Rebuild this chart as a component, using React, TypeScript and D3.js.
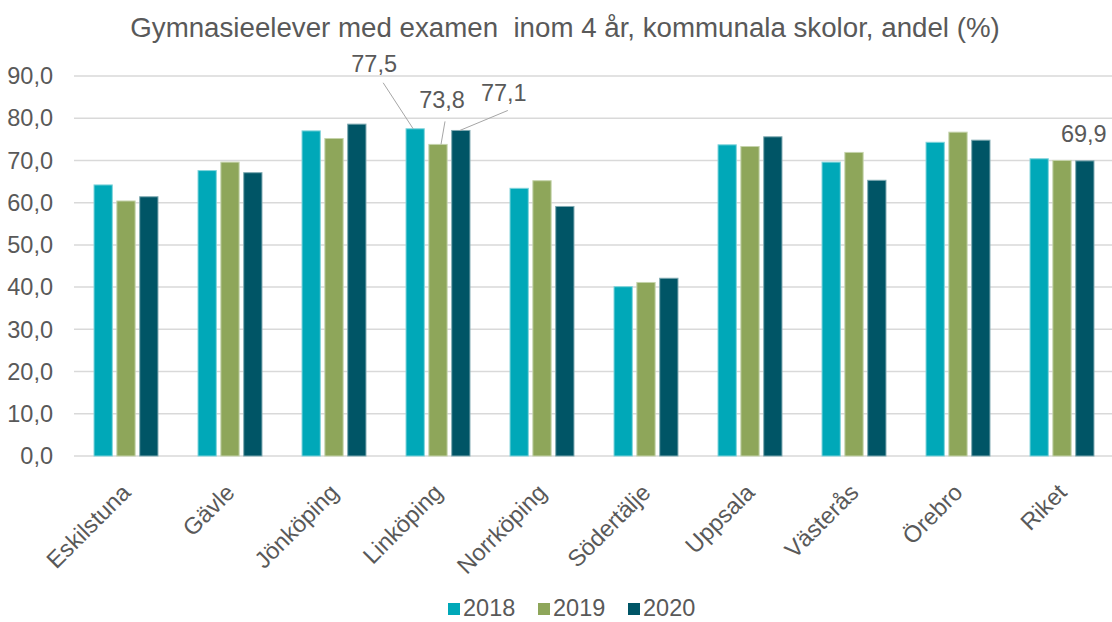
import React from 'react';
import * as d3 from 'd3';

const categories = ['Eskilstuna', 'Gävle', 'Jönköping', 'Linköping', 'Norrköping', 'Södertälje', 'Uppsala', 'Västerås', 'Örebro', 'Riket'];
const years = ['2018', '2019', '2020'];
const values2018 = [64.2, 67.6, 77.0, 77.5, 63.4, 40.1, 73.7, 69.6, 74.3, 70.4];
const values2019 = [60.4, 69.6, 75.2, 73.8, 65.2, 41.1, 73.3, 71.9, 76.7, 70.0];
const values2020 = [61.4, 67.1, 78.6, 77.1, 59.1, 42.1, 75.6, 65.3, 74.8, 69.9];
const yTicks = [0, 10, 20, 30, 40, 50, 60, 70, 80, 90];
// bars that carry a data label: [category, year]
const labelled = [['Linköping', '2018'], ['Linköping', '2019'], ['Linköping', '2020'], ['Riket', '2020']];

const colors = ['#00a8b8', '#8ea65a', '#005566'];
const strokes = ['#7fd3db', '#c5d3ab', '#7faab2'];

const width = 1112;
const height = 622;
const font = '"Liberation Sans", Arial, sans-serif';
const textColor = '#595959';

// label offsets relative to the bar top centre: dx, dy of text, and leader line start/end
const labelLayout = [
    { dx: -41, dy: -57, line: [[-32, -46], [-2, 0]] },
    { dx: 4, dy: -36, line: [[7, -23], [3, 0]] },
    { dx: 43, dy: -29, line: [[47, -20], [-1, 0]] },
    { dx: -1, dy: -19, line: null },
];

const App = () => {
    const series = [values2018, values2019, values2020];

    const x0 = d3.scaleBand<string>()
        .domain(categories)
        .range([74, 1114])
        .paddingInner(0.385)
        .paddingOuter(0.1925);

    const x1 = d3.scaleBand<string>()
        .domain(years)
        .range([0, x0.bandwidth()])
        .paddingInner(0.2);

    const y = d3.scaleLinear().domain([0, 90]).range([456, 76]);

    const fmt = (v: number) => d3.format('.1f')(v).replace('.', ',');

    const barCenter = (cat: string, yr: string) => (x0(cat) ?? 0) + (x1(yr) ?? 0) + x1.bandwidth() / 2;
    const valueOf = (cat: string, yr: string) => series[years.indexOf(yr)][categories.indexOf(cat)];

    return (
        <svg width={width} height={height} style={{ position: 'absolute', left: 0, top: 0, background: '#fff' }} fontFamily={font}>
            <text x={565} y={37} textAnchor="middle" fontSize={27.7} fill={textColor} style={{ whiteSpace: 'pre' }}>
                Gymnasieelever med examen  inom 4 år, kommunala skolor, andel (%)
            </text>

            {/* grid + y labels */}
            {yTicks.map(t => (
                <g key={t}>
                    <line x1={74} x2={1112} y1={y(t)} y2={y(t)} stroke="#d9d9d9" strokeWidth={1.5} />
                    <text x={53} y={y(t)} dy="0.35em" textAnchor="end" fontSize={23.5} fill={textColor}>{fmt(t)}</text>
                </g>
            ))}

            {/* bars */}
            {categories.map((cat, ci) => (
                <g key={cat} transform={`translate(${x0(cat)},0)`}>
                    {years.map((yr, si) => (
                        <rect
                            key={yr}
                            x={x1(yr)}
                            y={y(series[si][ci])}
                            width={x1.bandwidth()}
                            height={y(0) - y(series[si][ci])}
                            fill={colors[si]}
                            stroke={strokes[si]}
                            strokeWidth={1}
                        />
                    ))}
                </g>
            ))}

            {/* category labels */}
            {categories.map(cat => {
                const cx = (x0(cat) ?? 0) + x0.bandwidth() / 2;
                return (
                    <text key={cat} transform={`translate(${cx + 6},${494}) rotate(-45)`} textAnchor="end" fontSize={23.5} fill={textColor}>
                        {cat}
                    </text>
                );
            })}

            {/* data labels */}
            {labelled.map(([cat, yr], i) => {
                const bx = barCenter(cat, yr);
                const v = valueOf(cat, yr);
                const by = y(v);
                const l = labelLayout[i];
                return (
                    <g key={cat + yr}>
                        {l.line && (
                            <line x1={bx + l.line[0][0]} y1={by + l.line[0][1]} x2={bx + l.line[1][0]} y2={by + l.line[1][1]} stroke="#a6a6a6" strokeWidth={1} />
                        )}
                        <text x={bx + l.dx} y={by + l.dy} textAnchor="middle" fontSize={23.5} fill={textColor}>{fmt(v)}</text>
                    </g>
                );
            })}

            {/* legend */}
            {years.map((yr, i) => (
                <g key={yr} transform={`translate(${448 + i * 90},0)`}>
                    <rect x={0} y={603} width={12} height={12} fill={colors[i]} />
                    <text x={15} y={616} fontSize={23.5} fill={textColor}>{yr}</text>
                </g>
            ))}
        </svg>
    );
};

export default App;
